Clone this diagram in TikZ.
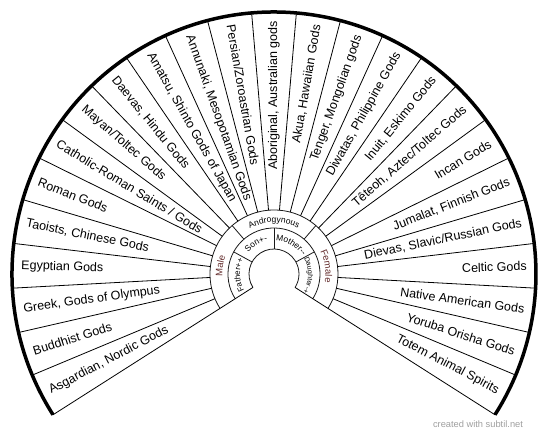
\documentclass[tikz,border=0pt]{standalone}
\usepackage{fontspec}
\setmainfont{Liberation Sans}
\usepackage{xcolor}
\usepackage{tikz}
\usetikzlibrary{decorations.text}
\definecolor{sexcol}{RGB}{100,45,45}
\newcommand{\lblfont}{\fontsize{12.5}{15}\selectfont}
\newcommand{\ringfont}{\fontsize{8.5}{10}\selectfont}
\newcommand{\sexfont}{\fontsize{9.5}{11}\selectfont}
\newcommand{\markfont}{\fontsize{9.3}{11}\selectfont}
\tikzstyle{lbl} = [draw=none, inner sep=0, font=\lblfont]
\tikzstyle{lft} = [lbl, anchor=west]
\tikzstyle{rgt} = [lbl, anchor=east]
\tikzstyle{spoke} = [-, draw=black, line width=0.8pt]
\tikzstyle{ring} = [-, draw=black!90, line width=0.8pt]
\tikzset{ringtext/.style={decorate, decoration={text along path, text align=center, text={#1}}}}

\begin{document}
\begin{tikzpicture}[x=1pt, y=1pt]
\useasboundingbox (-274,-163) rectangle (276,274);
% rings and spokes
\draw [line width=3.5pt] (212.5:262) arc[start angle=212.5, end angle=-32.5, radius=262];
\foreach \r in {25, 46, 64}
  \draw [ring] (212.5:\r) arc[start angle=212.5, end angle=-32.5, radius=\r];
\draw [spoke] (212.5:25) -- (212.5:262);
\draw [spoke] (-32.5:25) -- (-32.5:262);
\foreach \k in {1,...,24}
  \draw [spoke] ({212.5-9.8*\k}:64) -- ({212.5-9.8*\k}:262);
\draw [ring] (151.25:25) -- (151.25:46);
\draw [ring] (90:25) -- (90:46);
\draw [ring] (28.75:25) -- (28.75:46);
\draw [ring] (130.83:46) -- (130.83:64);
\draw [ring] (49.17:46) -- (49.17:64);
% inner labels
\path [ringtext={|\sexfont\color{sexcol}|Male}] (212.5:51.5) arc[start angle=212.5, end angle=130.83, radius=51.5];
\path [ringtext={|\ringfont|Androgynous}] (130.83:51.5) arc[start angle=130.83, end angle=49.17, radius=51.5];
\path [ringtext={|\sexfont\color{sexcol}|Female}] (49.17:51.5) arc[start angle=49.17, end angle=-32.5, radius=51.5];
\path [ringtext={|\fontsize{8}{9}\selectfont|Father++}] (212.5:34) arc[start angle=212.5, end angle=151.25, radius=34];
\path [ringtext={|\ringfont|Son+-}] (151.25:33.5) arc[start angle=151.25, end angle=90, radius=33.5];
\path [ringtext={|\ringfont|Mother--}] (90:33.5) arc[start angle=90, end angle=28.75, radius=33.5];
\path [ringtext={|\fontsize{7}{8}\selectfont|Daughter-+}] (28.75:34) arc[start angle=28.75, end angle=-32.5, radius=34];
% outer labels
\node [lft, rotate=27.6] (asgard) at (207.6:253) {Asgardian, Nordic Gods};
\node [lft, rotate=17.8] (buddhist) at (197.8:253) {Buddhist Gods};
\node [lft, rotate=8] (greek) at (188:253) {Greek, Gods of Olympus};
\node [lft, rotate=-1.8] (egypt) at (178.2:253) {Egyptian Gods};
\node [lft, rotate=-11.6] (taoist) at (168.4:253) {Taoists, Chinese Gods};
\node [lft, rotate=-21.4] (roman) at (158.6:253) {Roman Gods};
\node [lft, rotate=-31.2] (catholic) at (148.8:253) {Catholic-Roman Saints / Gods};
\node [lft, rotate=-41] (mayan) at (139:253) {Mayan/Toltec Gods};
\node [lft, rotate=-50.8] (daevas) at (129.2:253) {Daevas, Hindu Gods};
\node [lft, rotate=-60.6] (amatsu) at (119.4:253) {Amatsu, Shinto Gods of Japan};
\node [lft, rotate=-70.4] (annunaki) at (109.6:253) {Annunaki, Mesopotamian Gods};
\node [lft, rotate=-80.2] (persian) at (99.8:253) {Persian/Zoroastrian Gods};
\node [rgt, rotate=90] (aborig) at (90:253) {Aboriginal, Australian gods};
\node [rgt, rotate=80.2] (akua) at (80.2:253) {Akua, Hawaiian Gods};
\node [rgt, rotate=70.4] (tenger) at (70.4:253) {Tenger, Mongolian gods};
\node [rgt, rotate=60.6] (diwatas) at (60.6:253) {Diwatas, Philippine Gods};
\node [rgt, rotate=50.8] (inuit) at (50.8:253) {Inuit, Eskimo Gods};
\node [rgt, rotate=41] (teteoh) at (41:253) {Têteoh, Aztec/Toltec Gods};
\node [rgt, rotate=31.2] (incan) at (31.2:253) {Incan Gods};
\node [rgt, rotate=21.4] (jumalat) at (21.4:253) {Jumalat, Finnish Gods};
\node [rgt, rotate=11.6] (dievas) at (11.6:253) {Dievas, Slavic/Russian Gods};
\node [rgt, rotate=1.8] (celtic) at (1.8:253) {Celtic Gods};
\node [rgt, rotate=-8] (native) at (-8:253) {Native American Gods};
\node [rgt, rotate=-17.8] (yoruba) at (-17.8:253) {Yoruba Orisha Gods};
\node [rgt, rotate=-27.6] (totem) at (-27.6:253) {Totem Animal Spirits};
\node [draw=none, text=gray!75, font=\markfont] (mark) at (204,-150) {created with subtil.net};
\end{tikzpicture}
\end{document}
